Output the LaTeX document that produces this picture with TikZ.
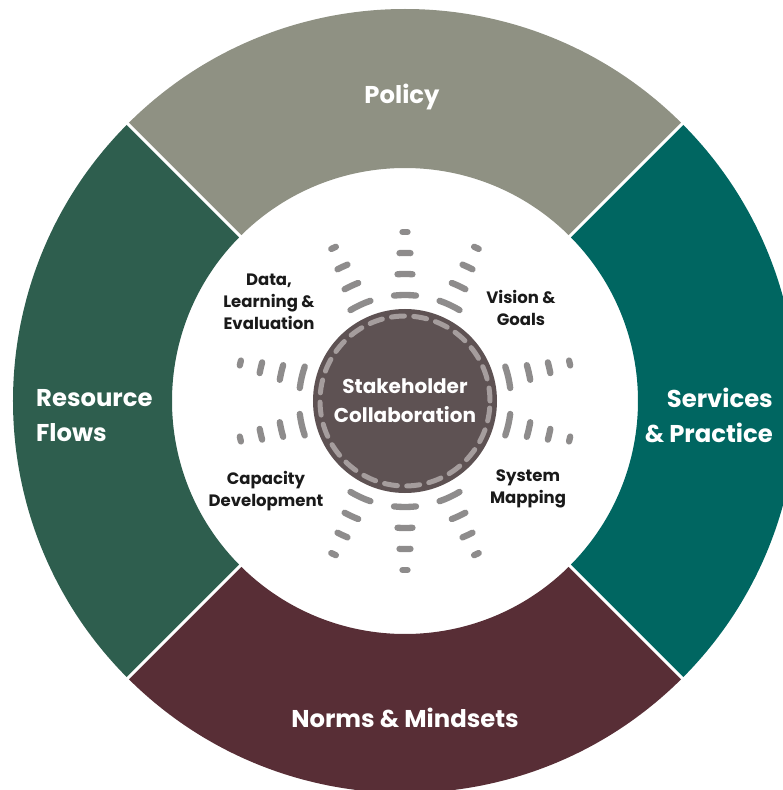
\documentclass[tikz,border=0pt]{standalone}
\usepackage{fontspec}
\setmainfont{Poppins}
\definecolor{policyc}{HTML}{8F9183}
\definecolor{resourcec}{HTML}{2E5E4E}
\definecolor{servicec}{HTML}{006661}
\definecolor{normsc}{HTML}{582E36}
\definecolor{corec}{HTML}{5E5253}
\definecolor{ringc}{HTML}{A59D9D}
\definecolor{rayc}{HTML}{8E8C8C}
\definecolor{inkc}{HTML}{1A1A1A}
\begin{document}
\begin{tikzpicture}[x=1pt,y=1pt,
  biglabel/.style={text=white,font=\fontsize{24.3}{35}\selectfont\bfseries,inner sep=0pt},
  smalllabel/.style={text=inkc,font=\fontsize{16.5}{22}\selectfont\bfseries,align=center,inner sep=0pt},
  corelabel/.style={text=white,font=\fontsize{20}{29}\selectfont\bfseries,align=center,inner sep=0pt},
  raydash/.style={draw=rayc,line width=6.3pt,line cap=round}]
\useasboundingbox (-405,-389) rectangle (378,401);
\begin{scope}
\clip (-405,-389) rectangle (378,401);
% outer ring sectors
\fill[policyc] (45:233) arc[start angle=45,end angle=135,radius=233] -- (135:392) arc[start angle=135,end angle=45,radius=392] -- cycle;
\fill[resourcec] (135:233) arc[start angle=135,end angle=225,radius=233] -- (225:392) arc[start angle=225,end angle=135,radius=392] -- cycle;
\fill[normsc] (225:233) arc[start angle=225,end angle=315,radius=233] -- (315:392) arc[start angle=315,end angle=225,radius=392] -- cycle;
\fill[servicec] (-45:233) arc[start angle=-45,end angle=45,radius=233] -- (45:392) arc[start angle=45,end angle=-45,radius=392] -- cycle;
% separators
\foreach \s in {45,135,225,315}{
  \draw[white,line width=3pt] (\s:230) -- (\s:396);
}
\end{scope}
% rays of dashes
\foreach \a in {65,90,115,245,270,295,13,-13,167,193}{
  \foreach \r/\h in {106/5.95,127/3.38,148/2.13,169/0.85}{
    \pgfmathsetmacro{\sa}{\a-\h}
    \pgfmathsetmacro{\ea}{\a+\h}
    \draw[raydash] (\sa:\r) arc[start angle=\sa,end angle=\ea,radius=\r];
  }
}
% core circle
\node[circle,fill=corec,minimum size=184pt,inner sep=0pt] (core) at (0,0) {};
\draw[ringc,line width=5pt,line cap=round,dash pattern=on 13pt off 9.35pt] (core.center) circle[radius=85];
\node[corelabel] (corelab) at (0,0.5) {Stakeholder\\Collaboration};
% outer labels
\node[biglabel] (policy) at (-3,304) {Policy};
\node[biglabel] (norms) at (0,-317) {Norms \& Mindsets};
\node[biglabel,anchor=west,align=left] (resource) at (-369,-14.5) {Resource\\Flows};
\node[biglabel,anchor=east,align=right] (services) at (368,-14.5) {Services\\\& Practice};
% inner labels
\node[smalllabel] (data) at (-136,99) {Data,\\Learning \&\\Evaluation};
\node[smalllabel] (vision) at (116,93.5) {Vision \&\\Goals};
\node[smalllabel] (capacity) at (-139,-90) {Capacity\\Development};
\node[smalllabel] (system) at (123,-88) {System\\Mapping};
\end{tikzpicture}
\end{document}
